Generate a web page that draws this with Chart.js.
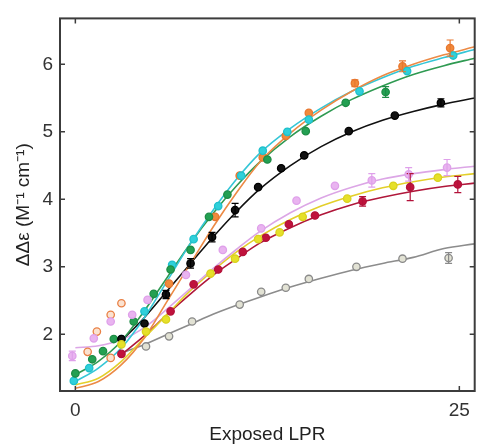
<!DOCTYPE html>
<html>
<head>
<meta charset="utf-8">
<script src="https://cdn.jsdelivr.net/npm/chart.js@4.4.1/dist/chart.umd.min.js"></script>
<style>
html, body { margin: 0; padding: 0; background: #fff; }
#wrap { width: 480px; height: 446px; }
</style>
</head>
<body>
<div id="wrap"><canvas id="canvasCd"></canvas></div>
<script>
// ---------------------------------------------------------------- data
// x positions where the fit curves were read off the picture
var fitX = [0, 1.5, 3, 4.5, 6, 7.5, 9, 10.5, 12, 14, 16, 18, 20, 22, 24, 26];

var orangeFit  = [1.2, 1.3, 1.55, 1.95, 2.5, 3.05, 3.6, 4.1, 4.55, 4.98, 5.32, 5.6, 5.83, 6.0, 6.14, 6.26];
var cyanFit    = [1.3, 1.5, 1.8, 2.25, 2.8, 3.35, 3.85, 4.3, 4.68, 5.05, 5.35, 5.6, 5.8, 5.97, 6.1, 6.22];
var greenFit   = [1.4, 1.6, 1.9, 2.35, 2.85, 3.35, 3.8, 4.2, 4.55, 4.93, 5.23, 5.48, 5.68, 5.85, 5.98, 6.09];
var blackFit   = [null, null, 1.9, 2.25, 2.65, 3.05, 3.45, 3.82, 4.15, 4.5, 4.78, 5.0, 5.17, 5.3, 5.41, 5.5];
var pinkFit    = [1.8, 1.83, 1.92, 2.1, 2.38, 2.68, 2.98, 3.26, 3.52, 3.8, 4.02, 4.18, 4.3, 4.38, 4.44, 4.49];
var yellowFit  = [1.25, 1.35, 1.6, 1.95, 2.3, 2.65, 2.95, 3.22, 3.45, 3.7, 3.9, 4.05, 4.17, 4.26, 4.33, 4.38];
var crimsonFit = [null, null, 1.7, 1.98, 2.3, 2.6, 2.88, 3.12, 3.35, 3.58, 3.77, 3.92, 4.03, 4.12, 4.19, 4.24];
var grayFit    = [null, null, 1.72, 1.85, 2.0, 2.15, 2.3, 2.43, 2.55, 2.7, 2.83, 2.95, 3.05, 3.14, 3.27, 3.34];

// measured points (x = exposed LPR, y = delta delta epsilon, e = error bar)
var orangeX = [6.1, 9.1, 10.7, 12.2, 13.7, 15.2, 18.2, 21.3, 24.4];
var orangeY = [2.75, 3.74, 4.35, 4.62, 4.94, 5.28, 5.72, 5.97, 6.24];
var orangeE = [0, 0, 0, 0, 0, 0, 0.05, 0.08, 0.12];

var orangeOpenX = [0.8, 1.4, 2.3, 3.0, 2.3];
var orangeOpenY = [1.74, 2.04, 2.29, 2.46, 1.65];

var cyanX = [-0.1, 0.9, 3.0, 4.5, 6.3, 7.7, 9.3, 10.8, 12.2, 13.8, 15.2, 18.5, 21.6, 24.6];
var cyanY = [1.31, 1.5, 1.93, 2.34, 3.03, 3.41, 3.9, 4.35, 4.72, 5.0, 5.18, 5.6, 5.9, 6.13];

var greenX = [0, 1.1, 1.8, 2.5, 3.8, 5.1, 6.2, 7.5, 8.7, 9.9, 12.5, 15.0, 17.6, 20.2];
var greenY = [1.42, 1.63, 1.75, 1.93, 2.19, 2.6, 2.96, 3.25, 3.74, 4.07, 4.59, 5.01, 5.43, 5.59];
var greenE = [0, 0, 0, 0, 0, 0, 0, 0, 0, 0, 0, 0, 0, 0.08];

var blackX = [3.0, 4.5, 5.9, 7.5, 8.9, 10.4, 11.9, 13.4, 14.9, 17.8, 20.8, 23.8];
var blackY = [1.93, 2.16, 2.59, 3.05, 3.44, 3.84, 4.18, 4.46, 4.65, 5.01, 5.24, 5.43];
var blackE = [0, 0, 0.06, 0.07, 0.07, 0.1, 0, 0, 0, 0, 0, 0.06];

var pinkX = [-0.2, 1.2, 2.3, 3.7, 4.7, 7.2, 9.6, 12.1, 14.4, 16.9, 19.3, 21.7, 24.2];
var pinkY = [1.68, 1.94, 2.19, 2.29, 2.51, 2.88, 3.25, 3.57, 3.98, 4.2, 4.28, 4.37, 4.47];
var pinkE = [0.07, 0, 0, 0, 0, 0, 0, 0, 0, 0, 0.1, 0.1, 0.12];

var yellowX = [3.0, 4.6, 5.9, 8.8, 10.4, 11.9, 13.3, 14.8, 17.7, 20.7, 23.6];
var yellowY = [1.85, 2.04, 2.22, 2.9, 3.12, 3.41, 3.51, 3.74, 4.01, 4.2, 4.32];

var crimsonX = [3.0, 6.2, 7.7, 9.3, 10.9, 12.4, 13.9, 15.6, 18.7, 21.8, 24.9];
var crimsonY = [1.71, 2.34, 2.74, 2.96, 3.22, 3.43, 3.63, 3.76, 3.97, 4.18, 4.22];
var crimsonE = [0, 0, 0, 0, 0, 0, 0, 0, 0.07, 0.2, 0.12];

var grayX = [4.6, 6.1, 7.6, 10.7, 12.1, 13.7, 15.2, 18.3, 21.3, 24.3];
var grayY = [1.82, 1.97, 2.19, 2.44, 2.63, 2.69, 2.82, 3.0, 3.12, 3.13];
var grayE = [0, 0, 0, 0, 0, 0, 0, 0, 0, 0.08];

var xTicks = [0, 25];
var yTicks = [2, 3, 4, 5, 6];

var go = {};
document.addEventListener("DOMContentLoaded", main);

//============================================================= helpers
// a fit curve drawn as a smooth line through the read-off values
function fitSet(ys, color)
{
    var pts = [];
    for (var i = 0; i < fitX.length; ++ i)
        pts.push({ x: fitX[i], y: ys[i] });
    return {
        data: pts,
        showLine: true,
        borderColor: color,
        borderWidth: 1.6,
        pointRadius: 0,
        cubicInterpolationMode: "monotone",
        order: 2
    };
}

// scatter markers for one series
function pointSet(xs, ys, edge, fill, errs)
{
    var pts = [];
    for (var i = 0; i < xs.length; ++ i)
        pts.push({ x: xs[i], y: ys[i] });
    return {
        data: pts,
        showLine: false,
        pointRadius: 3.7,
        pointBorderWidth: 1.3,
        borderColor: edge,
        backgroundColor: fill,
        errs: errs || null,
        order: 1
    };
}

// error bars, inner tick marks and the box round the axes
var framePlugin = {
    id: "framePlugin",
    afterDatasetsDraw: function (chart)
    {
        var ctx = chart.ctx;
        var sx = chart.scales.x, sy = chart.scales.y;
        chart.data.datasets.forEach(function (ds)
        {
            if (!ds.errs)
                return;
            ctx.save();
            ctx.strokeStyle = ds.borderColor;
            ctx.lineWidth = 1.2;
            for (var i = 0; i < ds.data.length; ++ i)
            {
                var e = ds.errs[i];
                if (!e)
                    continue;
                var px = sx.getPixelForValue(ds.data[i].x);
                var y1 = sy.getPixelForValue(ds.data[i].y + e);
                var y2 = sy.getPixelForValue(ds.data[i].y - e);
                ctx.beginPath();
                ctx.moveTo(px, y1); ctx.lineTo(px, y2);
                ctx.moveTo(px - 3.5, y1); ctx.lineTo(px + 3.5, y1);
                ctx.moveTo(px - 3.5, y2); ctx.lineTo(px + 3.5, y2);
                ctx.stroke();
            }
            ctx.restore();
        });
    },
    afterDraw: function (chart)
    {
        var ctx = chart.ctx;
        var a = chart.chartArea;
        var sx = chart.scales.x, sy = chart.scales.y;
        ctx.save();
        ctx.strokeStyle = "#3c3c3c";
        ctx.lineWidth = 1.5;
        ctx.beginPath();
        xTicks.forEach(function (v)
        {
            var px = sx.getPixelForValue(v);
            ctx.moveTo(px, a.bottom); ctx.lineTo(px, a.bottom - 5);
            ctx.moveTo(px, a.top); ctx.lineTo(px, a.top + 5);
        });
        yTicks.forEach(function (v)
        {
            var py = sy.getPixelForValue(v);
            ctx.moveTo(a.left, py); ctx.lineTo(a.left + 5, py);
            ctx.moveTo(a.right, py); ctx.lineTo(a.right - 5, py);
        });
        ctx.stroke();
        ctx.lineWidth = 2;
        ctx.strokeRect(a.left, a.top, a.right - a.left, a.bottom - a.top);
        ctx.restore();
    }
};

//============================================================= main entry point
function main()
{
    var font = "'Liberation Sans', Helvetica, Arial, sans-serif";

    var datasets = [
        fitSet(orangeFit, "#ec8a45"),
        fitSet(cyanFit, "#35c6d6"),
        fitSet(greenFit, "#2f9a52"),
        fitSet(blackFit, "#111111"),
        fitSet(pinkFit, "#dca6e6"),
        fitSet(yellowFit, "#e3cf2a"),
        fitSet(crimsonFit, "#b0173a"),
        fitSet(grayFit, "#8c8c8c"),
        pointSet(grayX, grayY, "#8a8a8a", "#e2e2d4", grayE),
        pointSet(yellowX, yellowY, "#d9d21e", "#e6e02a"),
        pointSet(crimsonX, crimsonY, "#b3123a", "#c0123c", crimsonE),
        pointSet(pinkX, pinkY, "#dfa0ea", "#e9b4f0", pinkE),
        pointSet(blackX, blackY, "#000000", "#111111", blackE),
        pointSet(greenX, greenY, "#1e8c45", "#23a052", greenE),
        pointSet(cyanX, cyanY, "#1fc0cc", "#2fd0da"),
        pointSet(orangeX, orangeY, "#e8772f", "#f08a3c", orangeE),
        pointSet(orangeOpenX, orangeOpenY, "#e98045", "#fbe2d0")
    ];

    var config = {
        type: "scatter",
        data: { datasets: datasets },
        options: {
            responsive: true,
            maintainAspectRatio: false,
            animation: false,
            layout: { padding: { top: 10, right: 1, left: 0, bottom: 0 } },
            plugins: {
                legend: { display: false },
                tooltip: { enabled: false }
            },
            scales: {
                x: {
                    type: "linear",
                    min: -1,
                    max: 26,
                    afterBuildTicks: function (scale)
                    {
                        scale.ticks = xTicks.map(function (v) { return { value: v }; });
                    },
                    afterFit: function (scale) { scale.height = 55; },
                    grid: { display: false, drawTicks: false },
                    border: { display: false },
                    ticks: {
                        padding: 8,
                        color: "#333",
                        font: { family: font, size: 19 }
                    },
                    title: {
                        display: true,
                        text: "Exposed LPR",
                        color: "#222",
                        padding: { top: 4, bottom: 0 },
                        font: { family: font, size: 19 }
                    }
                },
                y: {
                    type: "linear",
                    min: 1.16,
                    max: 6.68,
                    afterBuildTicks: function (scale)
                    {
                        scale.ticks = yTicks.map(function (v) { return { value: v }; });
                    },
                    afterFit: function (scale) { scale.width = 60; },
                    grid: { display: false, drawTicks: false },
                    border: { display: false },
                    ticks: {
                        padding: 7,
                        color: "#333",
                        font: { family: font, size: 19 }
                    },
                    title: {
                        display: true,
                        text: "\u0394\u0394\u03b5 (M\u207b\u00b9 cm\u207b\u00b9)",
                        color: "#222",
                        padding: { top: 12, bottom: 0 },
                        font: { family: font, size: 19 }
                    }
                }
            }
        },
        plugins: [framePlugin]
    };

    go.chart = new Chart(document.getElementById("canvasCd").getContext("2d"), config);
}
</script>
</body>
</html>
